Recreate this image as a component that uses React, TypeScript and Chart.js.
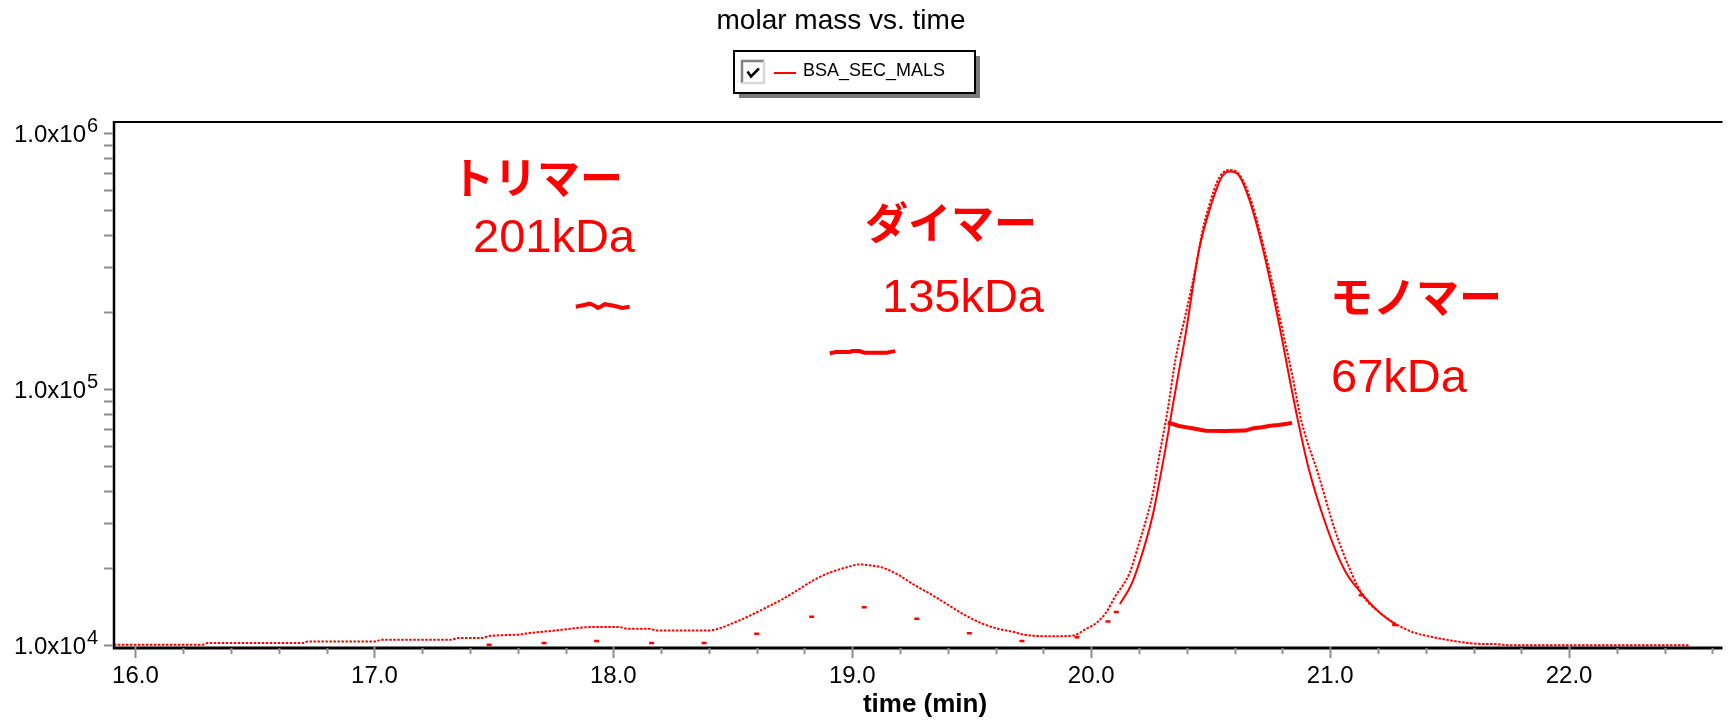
import React, { useEffect, useRef } from 'react';
import { Chart, registerables } from 'chart.js';

Chart.register(...registerables);

// ---------- data ----------
// dotted concentration-like trace
const concTime = [15.91, 16.28, 16.30, 16.70, 16.72, 17.00, 17.03, 17.32, 17.35, 17.45, 17.48, 17.60, 17.66, 17.75, 17.80, 17.88, 17.95, 18.02, 18.06, 18.15, 18.18, 18.40, 18.45, 18.50, 18.56, 18.63, 18.70, 18.77, 18.84, 18.91, 18.98, 19.03, 19.08, 19.12, 19.19, 19.26, 19.33, 19.39, 19.46, 19.54, 19.61, 19.67, 19.72, 19.78, 19.85, 19.92, 19.98, 20.02, 20.06, 20.10, 20.16, 20.20, 20.23, 20.26, 20.28, 20.32, 20.354, 20.395, 20.437, 20.465, 20.49, 20.534, 20.576, 20.62, 20.665, 20.705, 20.75, 20.81, 20.84, 20.88, 20.95, 21.02, 21.09, 21.14, 21.20, 21.27, 21.34, 21.45, 21.49, 21.62, 21.70, 21.75, 22.50];
const concValue = [1.005e4, 1.005e4, 1.02e4, 1.02e4, 1.035e4, 1.035e4, 1.05e4, 1.05e4, 1.067e4, 1.067e4, 1.087e4, 1.10e4, 1.12e4, 1.14e4, 1.155e4, 1.175e4, 1.18e4, 1.18e4, 1.16e4, 1.16e4, 1.142e4, 1.142e4, 1.17e4, 1.22e4, 1.29e4, 1.39e4, 1.50e4, 1.64e4, 1.80e4, 1.93e4, 2.02e4, 2.07e4, 2.05e4, 2.02e4, 1.89e4, 1.72e4, 1.58e4, 1.46e4, 1.33e4, 1.22e4, 1.16e4, 1.13e4, 1.10e4, 1.087e4, 1.085e4, 1.09e4, 1.16e4, 1.22e4, 1.334e4, 1.55e4, 1.91e4, 2.5e4, 3.1e4, 4.0e4, 5.2e4, 8.3e4, 1.33e5, 1.96e5, 2.98e5, 4.14e5, 5.09e5, 6.67e5, 7.19e5, 6.9e5, 5.6e5, 4.15e5, 2.8e5, 1.55e5, 1.15e5, 7.5e4, 4.67e4, 2.82e4, 1.91e4, 1.55e4, 1.36e4, 1.22e4, 1.13e4, 1.067e4, 1.05e4, 1.013e4, 1.01e4, 1.0e4, 1.0e4];

// solid trace over the monomer peak
const solidTime = [20.12, 20.17, 20.23, 20.26, 20.29, 20.31, 20.34, 20.37, 20.395, 20.45, 20.506, 20.548, 20.58, 20.617, 20.66, 20.70, 20.743, 20.80, 20.826, 20.868, 20.91, 20.99, 21.06, 21.13, 21.20, 21.27];
const solidValue = [1.45e4, 1.745e4, 2.57e4, 3.3e4, 4.6e4, 5.8e4, 8.5e4, 1.22e5, 1.64e5, 3.46e5, 5.4e5, 6.8e5, 7.1e5, 6.87e5, 5.57e5, 4.14e5, 2.81e5, 1.55e5, 1.15e5, 7.33e4, 4.9e4, 2.82e4, 1.97e4, 1.6e4, 1.36e4, 1.21e4];

// sparse sample dots
const sparseTime = [17.48, 17.71, 17.93, 18.16, 18.38, 18.60, 18.83, 19.05, 19.27, 19.49, 19.71, 19.94, 20.07, 20.105, 21.13, 21.27];
const sparseValue = [1.004e4, 1.022e4, 1.04e4, 1.022e4, 1.022e4, 1.11e4, 1.294e4, 1.407e4, 1.27e4, 1.115e4, 1.04e4, 1.076e4, 1.24e4, 1.35e4, 1.57e4, 1.2e4];

// molar mass segments
const trimerTime = [17.843, 17.873, 17.901, 17.922, 17.936, 17.950, 17.964, 17.991, 18.019, 18.036, 18.068];
const trimerMass = [2.10e5, 2.13e5, 2.16e5, 2.12e5, 2.08e5, 2.11e5, 2.15e5, 2.13e5, 2.10e5, 2.08e5, 2.10e5];
const dimerTime = [18.906, 18.93, 18.99, 19.0, 19.03, 19.05, 19.10, 19.145, 19.16, 19.18];
const dimerMass = [1.38e5, 1.40e5, 1.40e5, 1.41e5, 1.41e5, 1.39e5, 1.39e5, 1.39e5, 1.40e5, 1.41e5];
const monomerTime = [20.32, 20.345, 20.367, 20.40, 20.423, 20.478, 20.56, 20.645, 20.68, 20.715, 20.75, 20.784, 20.82, 20.84];
const monomerMass = [7.40e4, 7.3e4, 7.19e4, 7.1e4, 7.04e4, 6.89e4, 6.88e4, 6.9e4, 7.05e4, 7.11e4, 7.2e4, 7.25e4, 7.33e4, 7.40e4];

// axes / ticks
const xMin = 15.906;
const xMax = 22.642;
const yMin = 9.76e3;
const yMax = 1.117e6;
const xTickValues = [16, 17, 18, 19, 20, 21, 22];
const xTickLabels = ['16.0', '17.0', '18.0', '19.0', '20.0', '21.0', '22.0'];
const xMinorStep = 0.2;
const yTickValues = [1e4, 1e5, 1e6];
const yTickBase = '1.0x10';
const yTickExponents = ['4', '5', '6'];
const yMinorMultipliers = [2, 3, 4, 5, 6, 7, 8, 9];

const titleText = 'molar mass vs. time';
const legendText = 'BSA_SEC_MALS';
const xAxisTitle = 'time (min)';
const annotations = [
  { head: 'トリマー', mass: '201kDa' },
  { head: 'ダイマー', mass: '135kDa' },
  { head: 'モノマー', mass: '67kDa' },
];

const RED = '#ff0000';
const SANS = '"Liberation Sans", Arial, sans-serif';
const CJK = '"Noto Sans CJK JP", sans-serif';

const zip = (xs: number[], ys: number[]) => xs.map((x, i) => ({ x, y: ys[i] }));

const decorPlugin = {
  id: 'decor',
  afterDraw(chart: any) {
    const ctx: CanvasRenderingContext2D = chart.ctx;
    const { left, top, right, bottom } = chart.chartArea;
    const xs = chart.scales.x;
    const ys = chart.scales.y;
    ctx.save();

    // title
    ctx.fillStyle = '#000';
    ctx.font = `28px ${SANS}`;
    ctx.textAlign = 'center';
    ctx.textBaseline = 'alphabetic';
    ctx.fillText(titleText, 841, 29);

    // legend box
    ctx.fillStyle = '#7a7a7a';
    ctx.fillRect(739, 56, 241, 42);
    ctx.fillStyle = '#fff';
    ctx.fillRect(734, 51, 241, 42);
    ctx.strokeStyle = '#000';
    ctx.lineWidth = 2;
    ctx.strokeRect(734, 51, 241, 42);
    // checkbox
    ctx.fillStyle = '#fff';
    ctx.fillRect(742, 61, 21, 21);
    ctx.lineWidth = 2.5;
    ctx.strokeStyle = '#808080';
    ctx.beginPath();
    ctx.moveTo(742, 83); ctx.lineTo(742, 61); ctx.lineTo(764, 61);
    ctx.stroke();
    ctx.strokeStyle = '#d8d8d8';
    ctx.beginPath();
    ctx.moveTo(764, 61); ctx.lineTo(764, 83); ctx.lineTo(742, 83);
    ctx.stroke();
    ctx.strokeStyle = '#000';
    ctx.lineWidth = 2.5;
    ctx.beginPath();
    ctx.moveTo(747.5, 71.5); ctx.lineTo(751, 76.5); ctx.lineTo(759, 68.5);
    ctx.stroke();
    // red legend line
    ctx.strokeStyle = RED;
    ctx.lineWidth = 2;
    ctx.beginPath();
    ctx.moveTo(774, 73); ctx.lineTo(796, 73);
    ctx.stroke();
    ctx.fillStyle = '#000';
    ctx.font = `18px ${SANS}`;
    ctx.textAlign = 'left';
    ctx.fillText(legendText, 803, 76);

    // frame
    ctx.strokeStyle = '#000';
    ctx.lineWidth = 2;
    ctx.beginPath();
    ctx.moveTo(left, top + 1); ctx.lineTo(right, top + 1);
    ctx.stroke();
    ctx.lineWidth = 2.5;
    ctx.beginPath();
    ctx.moveTo(left + 1, top); ctx.lineTo(left + 1, bottom + 1);
    ctx.stroke();
    ctx.lineWidth = 3;
    ctx.beginPath();
    ctx.moveTo(left, bottom); ctx.lineTo(right, bottom);
    ctx.stroke();

    // y ticks
    ctx.strokeStyle = '#8c8c8c';
    ctx.lineWidth = 2;
    const yTicks: number[] = [];
    yTickValues.forEach((v) => {
      yTicks.push(v);
      yMinorMultipliers.forEach((m) => yTicks.push(v * m));
    });
    yTicks.forEach((v) => {
      if (v < yMin || v > yMax) return;
      const py = Math.round(ys.getPixelForValue(v)) + 0.5;
      ctx.beginPath();
      ctx.moveTo(left - 9, py); ctx.lineTo(left, py);
      ctx.stroke();
    });
    ctx.fillStyle = '#000';
    yTickValues.forEach((v, i) => {
      const py = ys.getPixelForValue(v);
      ctx.font = `24px ${SANS}`;
      ctx.textAlign = 'right';
      ctx.fillText(yTickBase, 86, py + 9);
      ctx.font = `20px ${SANS}`;
      ctx.textAlign = 'left';
      ctx.fillText(yTickExponents[i], 87, py - 1);
    });

    // x ticks
    ctx.strokeStyle = '#8c8c8c';
    ctx.lineWidth = 2;
    for (let k = Math.ceil(xMin / xMinorStep); k * xMinorStep <= xMax; k++) {
      const v = k * xMinorStep;
      const isMajor = Math.abs(v - Math.round(v)) < 1e-6;
      const px = Math.round(xs.getPixelForValue(v)) + 0.5;
      ctx.beginPath();
      ctx.moveTo(px, isMajor ? bottom - 2 : bottom);
      ctx.lineTo(px, bottom + (isMajor ? 10 : 6));
      ctx.stroke();
    }
    ctx.fillStyle = '#000';
    ctx.font = `24px ${SANS}`;
    ctx.textAlign = 'center';
    xTickValues.forEach((v, i) => {
      ctx.fillText(xTickLabels[i], xs.getPixelForValue(v), 683);
    });
    ctx.font = `bold 26px ${SANS}`;
    ctx.fillText(xAxisTitle, 925, 712);

    // annotations
    ctx.fillStyle = RED;
    ctx.textAlign = 'left';
    const headPos = [[451, 194], [865, 239], [1330, 313]];
    const massPos = [[473, 252], [882, 312], [1331, 392]];
    annotations.forEach((a, i) => {
      ctx.font = `bold 43px ${CJK}`;
      ctx.fillText(a.head, headPos[i][0], headPos[i][1]);
      ctx.font = `47px ${SANS}`;
      ctx.fillText(a.mass, massPos[i][0], massPos[i][1]);
    });

    ctx.restore();
  },
};

export default function App() {
  const ref = useRef<HTMLCanvasElement | null>(null);
  useEffect(() => {
    if (!ref.current) return;
    const segStyle = {
      borderColor: RED,
      borderWidth: 4,
      pointRadius: 0,
      tension: 0,
      fill: false,
    };
    const chart = new Chart(ref.current, {
      type: 'line',
      data: {
        datasets: [
          {
            label: 'conc',
            data: zip(concTime, concValue),
            borderColor: RED,
            borderWidth: 2,
            borderDash: [2.5, 1.5],
            pointRadius: 0,
            fill: false,
            cubicInterpolationMode: 'monotone',
          },
          {
            label: 'solid',
            data: zip(solidTime, solidValue),
            borderColor: RED,
            borderWidth: 2,
            pointRadius: 0,
            fill: false,
            cubicInterpolationMode: 'monotone',
          },
          {
            label: 'sparse',
            data: zip(sparseTime, sparseValue),
            showLine: false,
            pointStyle: 'line',
            pointRadius: 2.5,
            pointBorderWidth: 2.5,
            pointBorderColor: RED,
            pointBackgroundColor: RED,
          },
          { label: 'trimer', data: zip(trimerTime, trimerMass), ...segStyle },
          { label: 'dimer', data: zip(dimerTime, dimerMass), ...segStyle },
          { label: 'monomer', data: zip(monomerTime, monomerMass), ...segStyle },
        ],
      } as any,
      options: {
        animation: false,
        responsive: true,
        maintainAspectRatio: false,
        events: [],
        layout: { padding: { left: 113, top: 121, right: 0, bottom: 73 } },
        plugins: { legend: { display: false }, tooltip: { enabled: false }, title: { display: false } },
        scales: {
          x: { type: 'linear', min: xMin, max: xMax, display: false },
          y: { type: 'logarithmic', min: yMin, max: yMax, display: false },
        },
      },
      plugins: [decorPlugin],
    });
    return () => chart.destroy();
  }, []);
  return (
    <div style={{ position: 'fixed', left: 0, top: 0, width: '1729px', height: '721px', background: '#fff' }}>
      <canvas ref={ref} style={{ display: 'block' }} />
    </div>
  );
}
